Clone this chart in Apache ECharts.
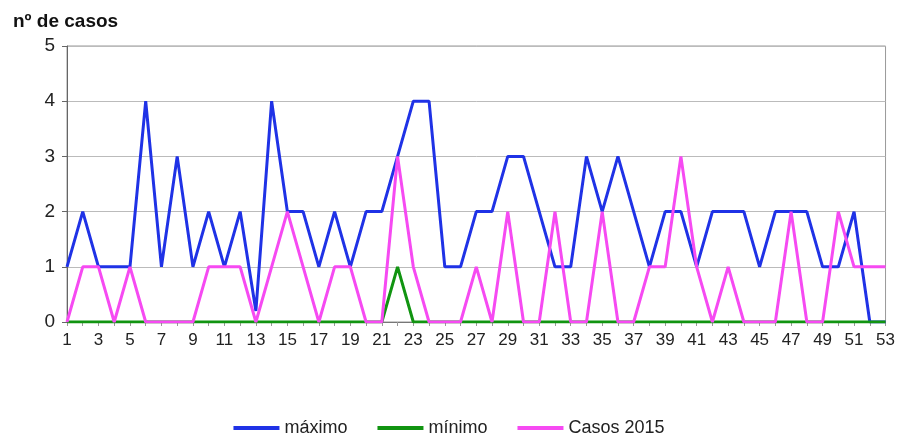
<!DOCTYPE html>
<html lang="es">
<head>
    <meta charset="UTF-8">
    <title>nº de casos</title>
    <style>
        html, body { margin: 0; padding: 0; background: #fff; }
        #container { width: 898px; height: 445px; }
    </style>
</head>
<body>
    <div id="container"></div>
    <script src="https://cdn.jsdelivr.net/npm/echarts@6/dist/echarts.min.js"></script>
    <script>
        // semanas 1..53
        var semanas = ['1','2','3','4','5','6','7','8','9','10','11','12','13','14','15','16','17','18','19','20',
            '21','22','23','24','25','26','27','28','29','30','31','32','33','34','35','36','37','38','39','40',
            '41','42','43','44','45','46','47','48','49','50','51','52','53'];

        var maximo = [1,2,1,1,1,4,1,3,1,2,1,2,0.2,4,2,2,1,2,1,2,
            2,3,4,4,1,1,2,2,3,3,2,1,1,3,2,3,2,1,2,2,
            1,2,2,2,1,2,2,2,1,1,2,0,0];

        var minimo = [0,0,0,0,0,0,0,0,0,0,0,0,0,0,0,0,0,0,0,0,
            0,1,0,0,0,0,0,0,0,0,0,0,0,0,0,0,0,0,0,0,
            0,0,0,0,0,0,0,0,0,0,0,0,0];

        var casos2015 = [0,1,1,0,1,0,0,0,0,1,1,1,0,1,2,1,0,1,1,0,
            0,3,1,0,0,0,1,0,2,0,0,2,0,0,2,0,0,1,1,3,
            1,0,1,0,0,0,2,0,0,2,1,1,1];

        var myChart = echarts.init(document.getElementById('container'));
        var fuente = '"Liberation Sans", Arial, sans-serif';

        var option = {
            animation: false,
            title: {
                text: 'nº de casos',
                left: 8,
                top: 7,
                textStyle: { fontFamily: fuente, fontSize: 19, fontWeight: 'bold', color: '#111' }
            },
            grid: {
                left: 67, right: 11, top: 46, bottom: 123,
                show: true,
                borderColor: '#999',
                borderWidth: 1
            },
            legend: {
                bottom: 3,
                left: 'center',
                icon: 'rect',
                itemWidth: 46,
                itemHeight: 4,
                itemGap: 30,
                textStyle: { fontFamily: fuente, fontSize: 18, color: '#222' },
                data: ['máximo', 'mínimo', 'Casos 2015']
            },
            xAxis: {
                type: 'category',
                data: semanas,
                boundaryGap: false,
                axisLine: { lineStyle: { color: '#777', width: 1 } },
                axisTick: { show: true, interval: 0, length: 4, lineStyle: { color: '#999' } },
                axisLabel: { interval: 1, fontFamily: fuente, fontSize: 17, color: '#222', margin: 10 }
            },
            yAxis: {
                type: 'value',
                min: 0,
                max: 5,
                interval: 1,
                axisLine: { show: true, lineStyle: { color: '#666' } },
                axisTick: { show: true, length: 5, lineStyle: { color: '#666' } },
                axisLabel: { fontFamily: fuente, fontSize: 19, color: '#222', margin: 12 },
                splitLine: { lineStyle: { color: '#bbb', width: 1 } }
            },
            series: [{
                name: 'máximo',
                type: 'line',
                data: maximo,
                symbol: 'none',
                itemStyle: { color: '#1f32e6' },
                lineStyle: { color: '#1f32e6', width: 3 }
            }, {
                name: 'mínimo',
                type: 'line',
                data: minimo,
                symbol: 'none',
                itemStyle: { color: '#119411' },
                lineStyle: { color: '#119411', width: 3 }
            }, {
                name: 'Casos 2015',
                type: 'line',
                data: casos2015,
                symbol: 'none',
                itemStyle: { color: '#f64af2' },
                lineStyle: { color: '#f64af2', width: 3 }
            }]
        };

        myChart.setOption(option);
    </script>
</body>
</html>
